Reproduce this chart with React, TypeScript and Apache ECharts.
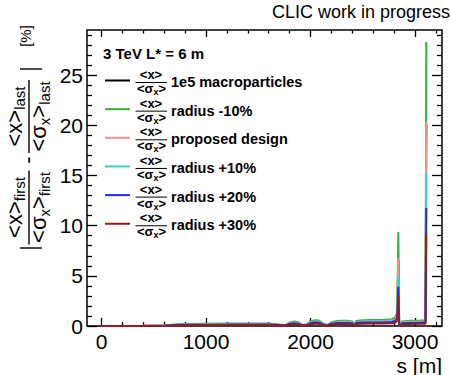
import { useEffect, useRef } from "react";
import * as echarts from "echarts";

// Longitudinal position along the line (m)
const S_M = [0, 200, 400, 600, 700, 800, 1000, 1200, 1400, 1600, 1700, 1760, 1800, 1840, 1880, 1920, 1960, 2000, 2040, 2080, 2120, 2160, 2200, 2250, 2300, 2350, 2400, 2420, 2435, 2500, 2600, 2700, 2780, 2810, 2830, 2840, 2848, 2855, 2862, 2875, 2950, 3050, 3100, 3108];

// Relative change of <x>/<sigma_x> (%) for each configuration
const MACRO_1E5 = [0, 0.01, 0.02, 0.04, 0.11, 0.15, 0.17, 0.19, 0.2, 0.18, 0.11, 0.08, 0.27, 0.35, 0.29, 0.09, 0.11, 0.35, 0.45, 0.43, 0.19, 0.06, 0.29, 0.39, 0.41, 0.41, 0.35, 0.04, 0.39, 0.45, 0.47, 0.49, 0.53, 0.66, 1.02, 6.6, 0.31, 0.02, 0.02, 0.35, 0.41, 0.43, 0.45, 20.1];
const RADIUS_M10 = [0, 0.01, 0.02, 0.05, 0.15, 0.2, 0.22, 0.24, 0.26, 0.24, 0.15, 0.1, 0.35, 0.45, 0.38, 0.12, 0.15, 0.45, 0.58, 0.55, 0.25, 0.08, 0.38, 0.5, 0.52, 0.52, 0.45, 0.05, 0.5, 0.58, 0.6, 0.62, 0.68, 0.85, 1.3, 9.36, 0.4, 0.02, 0.03, 0.45, 0.52, 0.55, 0.58, 28.3];
const PROPOSED = [0, 0.01, 0.02, 0.04, 0.12, 0.16, 0.18, 0.19, 0.21, 0.19, 0.12, 0.08, 0.28, 0.36, 0.3, 0.1, 0.12, 0.36, 0.46, 0.44, 0.2, 0.06, 0.3, 0.4, 0.42, 0.42, 0.36, 0.04, 0.4, 0.46, 0.48, 0.5, 0.54, 0.68, 1.05, 6.77, 0.32, 0.02, 0.02, 0.36, 0.42, 0.44, 0.46, 20.35];
const RADIUS_P10 = [0, 0.01, 0.01, 0.04, 0.1, 0.14, 0.15, 0.17, 0.18, 0.17, 0.1, 0.07, 0.25, 0.32, 0.27, 0.08, 0.1, 0.32, 0.41, 0.38, 0.18, 0.06, 0.27, 0.35, 0.36, 0.36, 0.32, 0.03, 0.35, 0.41, 0.42, 0.43, 0.48, 0.6, 0.9, 5.0, 0.28, 0.01, 0.02, 0.32, 0.36, 0.38, 0.4, 15.2];
const RADIUS_P20 = [0, 0.01, 0.01, 0.03, 0.09, 0.12, 0.13, 0.14, 0.16, 0.14, 0.09, 0.06, 0.21, 0.27, 0.23, 0.07, 0.09, 0.27, 0.35, 0.33, 0.15, 0.05, 0.23, 0.3, 0.31, 0.31, 0.27, 0.03, 0.3, 0.35, 0.36, 0.37, 0.41, 0.5, 0.78, 3.9, 0.24, 0.01, 0.02, 0.27, 0.31, 0.33, 0.35, 11.75];
const RADIUS_P30 = [0, 0, 0.01, 0.02, 0.06, 0.08, 0.09, 0.1, 0.1, 0.1, 0.06, 0.04, 0.14, 0.18, 0.15, 0.05, 0.06, 0.18, 0.23, 0.22, 0.1, 0.03, 0.15, 0.2, 0.21, 0.21, 0.18, 0.02, 0.2, 0.23, 0.24, 0.25, 0.27, 0.34, 0.52, 3.0, 0.16, 0.01, 0.01, 0.18, 0.21, 0.22, 0.23, 9.16];

const SERIES_NAMES = ["1e5 macroparticles", "radius -10%", "proposed design", "radius +10%", "radius +20%", "radius +30%"];
const SERIES_VALUES = [MACRO_1E5, RADIUS_M10, PROPOSED, RADIUS_P10, RADIUS_P20, RADIUS_P30];
const SERIES_COLORS = ["#000000", "#2fb52f", "#f4958c", "#3ccfcf", "#2525ff", "#981b1b"];

// Axis ticks
const X_MAJOR = [0, 1000, 2000, 3000];
const X_MINOR = [200, 400, 600, 800, 1200, 1400, 1600, 1800, 2200, 2400, 2600, 2800, 3200];
const Y_MAJOR = [0, 5, 10, 15, 20, 25];
const Y_MINOR = [1, 2, 3, 4, 6, 7, 8, 9, 11, 12, 13, 14, 16, 17, 18, 19, 21, 22, 23, 24, 26, 27, 28, 29];

const X_MIN = -139;
const X_MAX = 3258;
const Y_MIN = 0;
const Y_MAX = 29.5;

const FONT = "'Liberation Sans', Arial, Helvetica, sans-serif";

let measureCtx: CanvasRenderingContext2D | null = null;
function measure(text: string, size: number, weight = "normal"): number {
  if (!measureCtx) measureCtx = document.createElement("canvas").getContext("2d");
  measureCtx!.font = `${weight} ${size}px ${FONT}`;
  return measureCtx!.measureText(text).width;
}

function txt(x: number, y: number, text: string, size: number, opts: any = {}) {
  const align = opts.align || "left";
  const va = opts.verticalAlign || "middle";
  return {
    type: "text",
    x,
    y,
    silent: true,
    style: {
      text,
      fontSize: size,
      fontFamily: FONT,
      fontWeight: opts.weight || "normal",
      fill: "#000",
      align,
      verticalAlign: va,
      textAlign: align,
      textVerticalAlign: va,
    },
  };
}

function seg(x1: number, y1: number, x2: number, y2: number, color = "#000", w = 1.2) {
  return { type: "line", silent: true, shape: { x1, y1, x2, y2 }, style: { stroke: color, lineWidth: w } };
}

// ---- vertical axis title: | <x>_first/<σx>_first - <x>_last/<σx>_last | [%]
type Frag = { t: string; sub?: boolean };
const T_MAIN = 22;
const T_SUB = 15;

function fragsWidth(frags: Frag[]) {
  return frags.reduce((a, f) => a + measure(f.t, f.sub ? T_SUB : T_MAIN), 0);
}
function runText(frags: Frag[], u0: number, vMain: number, vSub: number, els: any[]) {
  let u = u0;
  for (const f of frags) {
    const size = f.sub ? T_SUB : T_MAIN;
    els.push(txt(u, f.sub ? vSub : vMain, f.t, size));
    u += measure(f.t, size);
  }
}
function fraction(num: Frag[], den: Frag[], uc: number, els: any[]) {
  const wn = fragsWidth(num);
  const wd = fragsWidth(den);
  const w = Math.max(wn, wd) + 3;
  runText(num, uc - wn / 2, -15, -10, els);
  runText(den, uc - wd / 2, 9, 15, els);
  els.push(seg(uc - w / 2, 0, uc + w / 2, 0, "#000", 1.4));
}

function yTitle() {
  const els: any[] = [];
  els.push(seg(12, -9, 12, 13, "#000", 1.4));
  fraction([{ t: "<x>" }, { t: "first", sub: true }], [{ t: "<σ" }, { t: "x", sub: true }, { t: ">" }, { t: "first", sub: true }], 52.5, els);
  els.push(txt(100, -2, "-", T_MAIN, { align: "center" }));
  fraction([{ t: "<x>" }, { t: "last", sub: true }], [{ t: "<σ" }, { t: "x", sub: true }, { t: ">" }, { t: "last", sub: true }], 143.5, els);
  els.push(seg(191, -9, 191, 13, "#000", 1.4));
  els.push(txt(224, -4, "[%]", 15, { align: "center" }));
  return { type: "group", x: 29, y: 260, rotation: Math.PI / 2, children: els };
}

// ---- legend box
function legend() {
  const els: any[] = [];
  els.push(txt(103, 53, "3 TeV L* = 6 m", 15, { weight: "bold" }));
  SERIES_NAMES.forEach((name, i) => {
    const cy = 80.5 + i * 28.65;
    els.push(seg(105, cy, 130, cy, SERIES_COLORS[i], 2));
    els.push(txt(151, cy - 6, "<x>", 13, { weight: "bold", align: "center" }));
    els.push(seg(135.5, cy + 2, 167, cy + 2, "#000", 1));
    const w1 = measure("<σ", 13, "bold");
    const w2 = measure("x", 9, "bold");
    const w3 = measure(">", 13, "bold");
    const x0 = 151.5 - (w1 + w2 + w3) / 2;
    els.push(txt(x0, cy + 8, "<σ", 13, { weight: "bold" }));
    els.push(txt(x0 + w1, cy + 11.5, "x", 9, { weight: "bold" }));
    els.push(txt(x0 + w1 + w2, cy + 8, ">", 13, { weight: "bold" }));
    els.push(txt(171, cy + 1.5, name, 14.5, { weight: "bold" }));
  });
  return { type: "group", children: els };
}

const plain = (v: number) => String(v);

function xAxis(grid: number, position: "top" | "bottom", values: number[], length: number, labels: boolean) {
  return {
    type: "value",
    gridIndex: grid,
    position,
    offset: 0,
    min: X_MIN,
    max: X_MAX,
    axisLine: { show: false, onZero: false },
    splitLine: { show: false },
    axisTick: { show: true, inside: true, length, customValues: values, lineStyle: { color: "#000", width: 1.3 } },
    axisLabel: labels
      ? { show: true, customValues: values, formatter: plain, fontSize: 21, fontFamily: FONT, color: "#000", margin: 5 }
      : { show: false },
  };
}
function yAxis(grid: number, position: "left" | "right", values: number[], length: number, labels: boolean) {
  return {
    type: "value",
    gridIndex: grid,
    position,
    offset: 0,
    min: Y_MIN,
    max: Y_MAX,
    axisLine: { show: false, onZero: false },
    splitLine: { show: false },
    axisTick: { show: true, inside: true, length, customValues: values, lineStyle: { color: "#000", width: 1.3 } },
    axisLabel: labels
      ? { show: true, customValues: values, formatter: plain, fontSize: 21, fontFamily: FONT, color: "#000", margin: 4 }
      : { show: false },
  };
}

const GRID_BOX = { left: 87, right: 9, top: 30, bottom: 49, containLabel: false, outerBoundsMode: "none" };

function buildOption(): any {
  return {
    animation: false,
    backgroundColor: "#fff",
    title: {
      text: "CLIC work in progress",
      right: 1,
      top: 3,
      padding: 0,
      textStyle: { fontSize: 18, fontWeight: "normal", color: "#000", fontFamily: FONT },
    },
    grid: [
      { ...GRID_BOX, show: true, borderColor: "#000", borderWidth: 1.5, backgroundColor: "transparent" },
      { ...GRID_BOX, show: false },
    ],
    xAxis: [
      xAxis(0, "bottom", X_MAJOR, 8, true),
      xAxis(0, "top", X_MAJOR, 7, false),
      xAxis(1, "bottom", X_MINOR, 4, false),
      xAxis(1, "top", X_MINOR, 3.5, false),
    ],
    yAxis: [
      yAxis(0, "left", Y_MAJOR, 10, true),
      yAxis(0, "right", Y_MAJOR, 10, false),
      yAxis(1, "left", Y_MINOR, 5, false),
      yAxis(1, "right", Y_MINOR, 5, false),
    ],
    series: SERIES_VALUES.map((vals, i) => ({
      name: SERIES_NAMES[i],
      type: "line",
      xAxisIndex: 0,
      yAxisIndex: 0,
      data: S_M.map((s, k) => [s, vals[k]]),
      showSymbol: false,
      symbol: "none",
      clip: false,
      silent: true,
      lineStyle: { color: SERIES_COLORS[i], width: 2 },
      itemStyle: { color: SERIES_COLORS[i] },
      emphasis: { disabled: true },
    })),
    graphic: [
      yTitle(),
      legend(),
      txt(442, 365, "s [m]", 21, { align: "right" }),
    ],
  };
}

export default function App() {
  const ref = useRef<HTMLDivElement>(null);
  useEffect(() => {
    const chart = echarts.init(ref.current!, null, { renderer: "svg" });
    chart.setOption(buildOption());
    return () => chart.dispose();
  }, []);
  return <div ref={ref} style={{ position: "fixed", left: 0, top: 0, width: 451, height: 375 }} />;
}
